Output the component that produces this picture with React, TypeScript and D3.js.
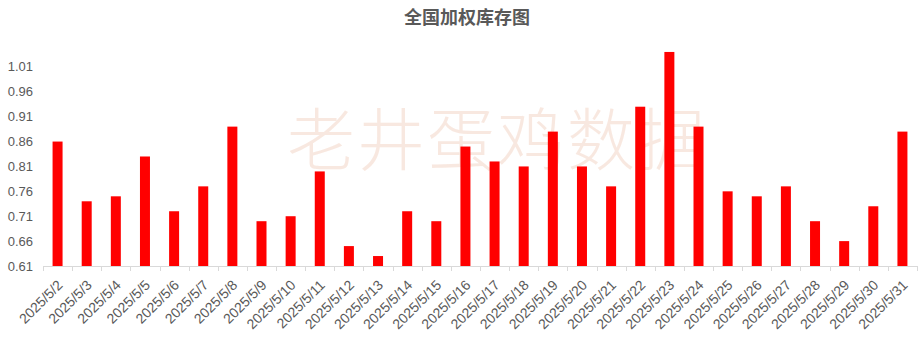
import React from "react";
import * as d3 from "d3";

const categories = [
  "2025/5/2","2025/5/3","2025/5/4","2025/5/5","2025/5/6","2025/5/7","2025/5/8","2025/5/9","2025/5/10","2025/5/11",
  "2025/5/12","2025/5/13","2025/5/14","2025/5/15","2025/5/16","2025/5/17","2025/5/18","2025/5/19","2025/5/20","2025/5/21",
  "2025/5/22","2025/5/23","2025/5/24","2025/5/25","2025/5/26","2025/5/27","2025/5/28","2025/5/29","2025/5/30","2025/5/31",
];
const values = [
  0.86,0.74,0.75,0.83,0.72,0.77,0.89,0.70,0.71,0.80,
  0.65,0.63,0.72,0.70,0.85,0.82,0.81,0.88,0.81,0.77,
  0.93,1.04,0.89,0.76,0.75,0.77,0.70,0.66,0.73,0.88,
];
const yTicks = [0.61,0.66,0.71,0.76,0.81,0.86,0.91,0.96,1.01];
const title = "全国加权库存图";
const watermark = "老井蛋鸡数据";

const W = 924, H = 347;
const left = 43, right = 917, bottom = 266, top = 42;

export default function App() {
  const x = d3.scaleBand<string>().domain(categories).range([left, right]).paddingInner(0).paddingOuter(0);
  const y = d3.scaleLinear().domain([0.61, 1.06]).range([bottom, top]);
  const bw = 10;
  const tickXs = categories.map((c) => x(c)!).concat([right]);
  return (
    <svg width={W} height={H} style={{ position: "absolute", left: 0, top: 0, background: "#fff" }}>
      <rect x={0} y={0} width={W} height={H} fill="#fff" />
      <text x={467} y={24} textAnchor="middle" fontFamily="'Noto Sans CJK SC', sans-serif" fontWeight="bold" fontSize={18} fill="#595959">{title}</text>
      <text x={497} y={165} textAnchor="middle" fontFamily="'Noto Sans CJK SC', sans-serif" fontWeight={300} fontSize={68} fill="#f2d5c6" fillOpacity={0.55} letterSpacing={2}>{watermark}</text>
      {categories.map((c, i) => (
        <rect key={c} x={x(c)! + x.bandwidth() / 2 - bw / 2} y={y(values[i])} width={bw} height={bottom - y(values[i])} fill="#ff0000" />
      ))}
      <line x1={left} x2={right} y1={bottom + 0.5} y2={bottom + 0.5} stroke="#d9d9d9" strokeWidth={1} />
      {tickXs.map((tx, i) => (
        <line key={i} x1={Math.round(tx) + 0.5} x2={Math.round(tx) + 0.5} y1={bottom} y2={bottom + 5} stroke="#d9d9d9" strokeWidth={1} />
      ))}
      {yTicks.map((t) => (
        <text key={t} x={33} y={y(t) + 4.5} textAnchor="end" fontFamily="'Liberation Sans', Arial, sans-serif" fontSize={13} fill="#595959">{t.toFixed(2)}</text>
      ))}
      {categories.map((c) => {
        const cx = x(c)! + x.bandwidth() / 2 + 6;
        const cy = 286;
        return (
          <text key={c} x={cx} y={cy} transform={`rotate(-45, ${cx}, ${cy})`} textAnchor="end" fontFamily="'Liberation Sans', Arial, sans-serif" fontSize={14} fill="#595959">{c}</text>
        );
      })}
    </svg>
  );
}
